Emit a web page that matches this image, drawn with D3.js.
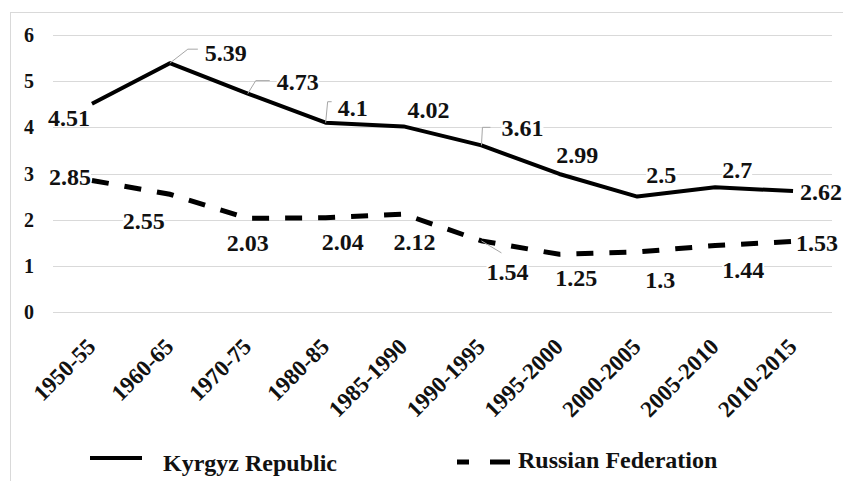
<!DOCTYPE html>
<html>
<head>
<meta charset="utf-8">
<script src="https://cdn.jsdelivr.net/npm/d3@7"></script>
<style>
  html, body { margin: 0; padding: 0; background: #fff; }
  svg { display: block; }
</style>
</head>
<body>
<svg id="chart" width="843" height="481"></svg>
<script>
// Periods on the x axis
const periods = ["1950-55", "1960-65", "1970-75", "1980-85", "1985-1990",
                 "1990-1995", "1995-2000", "2000-2005", "2005-2010", "2010-2015"];

// Total fertility rate per period
const kyrgyzValues  = [4.51, 5.39, 4.73, 4.1, 4.02, 3.61, 2.99, 2.5, 2.7, 2.62];
const russiaValues  = [2.85, 2.55, 2.03, 2.04, 2.12, 1.54, 1.25, 1.3, 1.44, 1.53];

const yTicks = [0, 1, 2, 3, 4, 5, 6];

const seriesNames = ["Kyrgyz Republic", "Russian Federation"];

// Label placement (pixel offsets of each value label centre from its point)
const kyrgyzLabelOffsets = [[-23, 14], [56, -10], [50, -12], [27, -15], [25, -16],
                            [41, -17], [18, -19], [24, -22], [22, -17], [28, 1]];
const russiaLabelOffsets = [[-22, -3], [-26, 27], [0, 25], [17, 24], [11, 28],
                            [26, 31], [17, 24], [23, 28], [28, 24], [24, 2]];
// Which labels get a gray leader line, and how it bends (offsets from the point)
const kyrgyzLeaders = {1: [[18, -14], [28, -14]], 2: [[8, -13], [22, -13]],
                       3: [[2, -21], [6, -21]], 5: [[1, -18], [9, -18]]};
const russiaLeaders = {5: [[20, 12]]};

const FONT = "'Liberation Serif', 'Times New Roman', Tinos, 'DejaVu Serif', serif";

const svg = d3.select("#chart");

// chart frame
svg.append("rect")
  .attr("x", 10.5).attr("y", 12.5).attr("width", 900).attr("height", 600)
  .attr("fill", "none").attr("stroke", "#d9d9d9").attr("stroke-width", 1);

const x = d3.scaleBand().domain(periods).range([53, 832]);
const y = d3.scaleLinear().domain([0, 6]).range([312, 35]);
const cx = d => x(d) + x.bandwidth() / 2;

function styleText(sel, size) {
  return sel.attr("font-family", FONT).attr("font-weight", "bold")
    .attr("font-size", size).attr("fill", "#111");
}

// horizontal gridlines
svg.append("g").selectAll("line").data(yTicks).join("line")
  .attr("x1", 53).attr("x2", 832)
  .attr("y1", d => Math.round(y(d)) + 0.5).attr("y2", d => Math.round(y(d)) + 0.5)
  .attr("stroke", "#d9d9d9").attr("stroke-width", 1);

// y axis labels
styleText(svg.append("g").selectAll("text").data(yTicks).join("text"), 20)
  .attr("x", 29).attr("y", d => y(d))
  .attr("text-anchor", "middle").attr("dominant-baseline", "central")
  .text(d => d);

// x axis labels, rotated
styleText(svg.append("g").selectAll("text").data(periods).join("text"), 23)
  .attr("text-anchor", "end")
  .attr("transform", d => `translate(${cx(d) + 5},348) rotate(-45)`)
  .text(d => d);

const line = d3.line().x((d, i) => cx(periods[i])).y(d => y(d));

svg.append("path").datum(kyrgyzValues)
  .attr("d", line).attr("fill", "none")
  .attr("stroke", "#000").attr("stroke-width", 4).attr("stroke-linejoin", "round");

svg.append("path").datum(russiaValues)
  .attr("d", line).attr("fill", "none")
  .attr("stroke", "#000").attr("stroke-width", 5)
  .attr("stroke-dasharray", "17,16");

// leader lines
function drawLeaders(values, leaders) {
  Object.keys(leaders).forEach(k => {
    const i = +k;
    const px = cx(periods[i]), py = y(values[i]);
    const pts = [[px, py]].concat(leaders[k].map(o => [px + o[0], py + o[1]]));
    svg.append("path")
      .attr("d", d3.line()(pts))
      .attr("fill", "none").attr("stroke", "#a6a6a6").attr("stroke-width", 1);
  });
}
drawLeaders(kyrgyzValues, kyrgyzLeaders);
drawLeaders(russiaValues, russiaLeaders);

// value labels with a white backing
function drawLabels(values, offsets) {
  const g = svg.append("g");
  values.forEach((v, i) => {
    const lx = cx(periods[i]) + offsets[i][0];
    const ly = y(v) + offsets[i][1];
    const bg = g.append("rect").attr("fill", "#fff");
    const t = styleText(g.append("text"), 24)
      .attr("x", lx).attr("y", ly)
      .attr("text-anchor", "middle").attr("dominant-baseline", "central")
      .text(v);
    const b = t.node().getBBox();
    bg.attr("x", b.x).attr("y", b.y + 4).attr("width", b.width).attr("height", b.height - 8);
  });
}
drawLabels(kyrgyzValues, kyrgyzLabelOffsets);
drawLabels(russiaValues, russiaLabelOffsets);

// legend
const legend = svg.append("g");
legend.append("line")
  .attr("x1", 90).attr("x2", 142).attr("y1", 458).attr("y2", 458)
  .attr("stroke", "#000").attr("stroke-width", 4);
styleText(legend.append("text"), 24)
  .attr("x", 163).attr("y", 471)
  .text(seriesNames[0]);
legend.append("line")
  .attr("x1", 457).attr("x2", 510).attr("y1", 462).attr("y2", 462)
  .attr("stroke", "#000").attr("stroke-width", 5)
  .attr("stroke-dasharray", "12,21,20");
styleText(legend.append("text"), 24)
  .attr("x", 518).attr("y", 468)
  .text(seriesNames[1]);
</script>
</body>
</html>
